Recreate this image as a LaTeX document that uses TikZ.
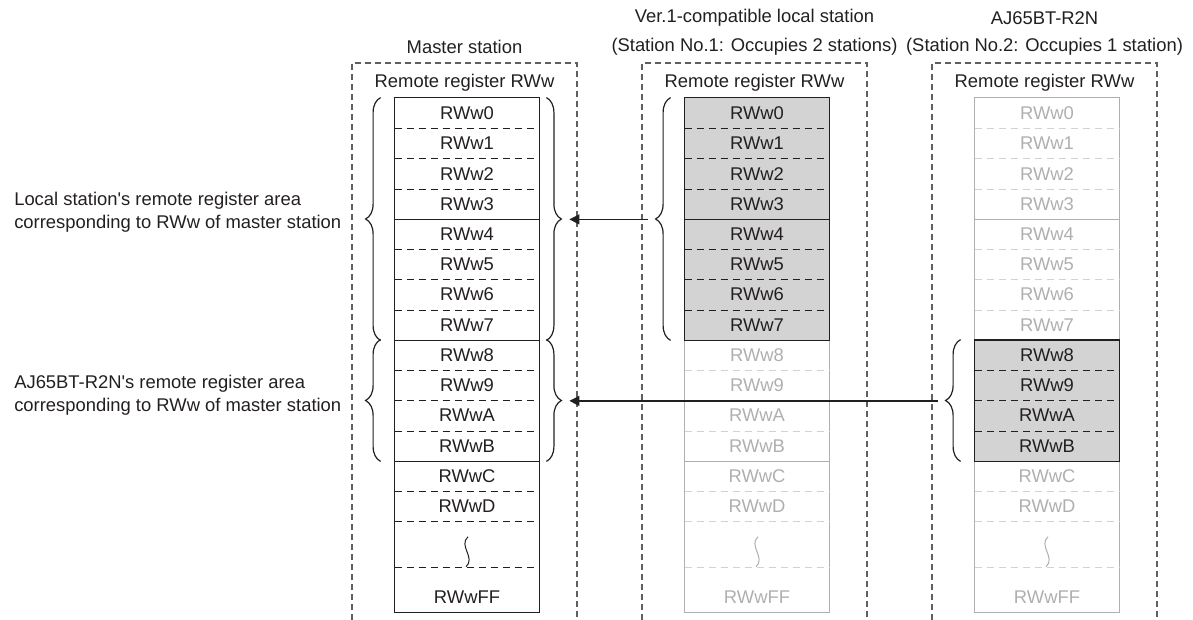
\documentclass[tikz,border=0pt]{standalone}
\usepackage{fontspec}
\setmainfont{Liberation Sans}
\usepackage{tikz}
\usetikzlibrary{positioning,decorations.pathreplacing,arrows.meta}

\definecolor{inkdark}{RGB}{35,31,32}
\definecolor{inklight}{RGB}{175,175,175}
\definecolor{dashlight}{RGB}{210,210,210}
\definecolor{regshade}{RGB}{211,211,211}
\definecolor{framegray}{RGB}{95,95,95}

\tikzset{
  txt/.style={font=\fontsize{9.2}{11.5}\selectfont, text=inkdark, inner sep=0pt},
  cell/.style={txt, minimum width=72pt, minimum height=15.125pt},
  frame/.style={draw=framegray, line width=0.6pt, dash pattern=on 3pt off 2pt},
  sep/.style={line width=0.6pt},
  dashsep/.style={line width=0.5pt, dash pattern=on 3.5pt off 2.5pt},
  brace/.style={draw=inkdark, line width=0.6pt, decorate, decoration={brace, amplitude=7.5pt}},
  arr/.style={draw=inkdark, line width=0.6pt, -{Triangle[length=5pt,width=5pt]}},
}

% register column: #1 prefix, #2/#3 first/last used row, #4 fill of used rows,
% #5 text/line colour of other rows, #6 dash colour of other rows
\newcommand{\regcol}[6]{%
  \foreach \n [count=\i from 0] in {0,1,2,3,4,5,6,7,8,9,A,B,C,D} {
    \ifnum\i<#2\relax \def\tc{#5}\def\fc{none}%
    \else\ifnum\i>#3\relax \def\tc{#5}\def\fc{none}%
    \else \def\tc{inkdark}\def\fc{#4}\fi\fi
    \node[cell, text=\tc, fill=\fc] (#1\i) at (115,{113.125+30.25*\i}) {RWw\n};
  }
  \node[cell] (#1gap) at (115,551.75) {};
  \node[cell, text=#5] (#1ff) at (115,597.125) {RWwFF};
  \draw[sep, draw=#5] (#10.north west) rectangle (#1ff.south east);
  \foreach \i in {0,...,12} {
    \ifnum\i=3 \def\ls{sep}\def\lo{#5}%
    \else\ifnum\i=7 \def\ls{sep}\def\lo{#5}%
    \else\ifnum\i=11 \def\ls{sep}\def\lo{#5}%
    \else\def\ls{dashsep}\def\lo{#6}\fi\fi\fi
    \pgfmathtruncatemacro{\on}{(\i>=#2-1)&&(\i<=#3)}
    \ifnum\on=1 \def\lc{inkdark}\else\let\lc\lo\fi
    \draw[\ls, draw=\lc] (#1\i.south west) -- (#1\i.south east);
  }
  \draw[dashsep, draw=#6] (#113.south west) -- (#113.south east);
  \draw[dashsep, draw=#6] (#1gap.south west) -- (#1gap.south east);
  \draw[line width=0.5pt, draw=#5] ([shift={(1,-15)}]#1gap.center) .. controls +(-10,9) and +(10,-9) .. ([shift={(-1,15)}]#1gap.center);
  \draw[sep, draw=inkdark] (#1#2.north west) rectangle (#1#3.south east);
}

\begin{document}
\begin{tikzpicture}[x=0.5pt, y=-0.5pt]
\useasboundingbox (0,0) rectangle (1193,620);

% 1. Master station
\begin{scope}[shift={(352,0)}]
  \draw[frame] (0,620) |- (225,63) -- (225,620);
  \node[txt] (mname) at (112.5,47) {Master station};
  \node[txt] (mreg) at (112.5,83) {Remote register RWw};
  \regcol{m}{0}{11}{white}{inkdark}{inkdark}
\end{scope}

% 2. Local station
\begin{scope}[shift={(642,0)}]
  \draw[frame] (0,620) |- (225,63) -- (225,620);
  \node[txt] (lname) at (112.5,18) {Ver.1-compatible local station};
  \node[txt] (lno) at (112.5,47) {(Station No.1: Occupies 2 stations)};
  \node[txt] (lreg) at (112.5,83) {Remote register RWw};
  \regcol{l}{0}{7}{regshade}{inklight}{dashlight}
\end{scope}

% 3. AJ65BT-R2N
\begin{scope}[shift={(932,0)}]
  \draw[frame] (0,620) |- (225,63) -- (225,620);
  \node[txt] (rname) at (112.5,18) {AJ65BT-R2N};
  \node[txt] (rno) at (112.5,47) {(Station No.2: Occupies 1 station)};
  \node[txt] (rreg) at (112.5,83) {Remote register RWw};
  \regcol{r}{8}{11}{regshade}{inklight}{dashlight}
\end{scope}

% braces
\draw[brace] ([xshift=-7pt]m7.south west) -- ([xshift=-7pt]m0.north west);
\draw[brace] ([xshift=-7pt]m11.south west) -- ([xshift=-7pt]m8.north west);
\draw[brace] ([xshift=3.5pt]m0.north east) -- ([xshift=3.5pt]m7.south east);
\draw[brace] ([xshift=3.5pt]m8.north east) -- ([xshift=3.5pt]m11.south east);
\draw[brace] ([xshift=-7pt]l7.south west) -- ([xshift=-7pt]l0.north west);
\draw[brace] ([xshift=-7pt]r11.south west) -- ([xshift=-7pt]r8.north west);

\coordinate (mtipA) at ([xshift=-14.5pt]m3.south west);
\coordinate (mtipB) at ([xshift=-14.5pt]m9.south west);
\coordinate (mtipC) at ([xshift=11pt]m3.south east);
\coordinate (mtipD) at ([xshift=11pt]m9.south east);
\coordinate (ltip) at ([xshift=-14.5pt]l3.south west);
\coordinate (rtip) at ([xshift=-14.5pt]r9.south west);

% labels and arrows
\node[txt, align=left, anchor=east, yshift=3.5pt] (labloc) at ([xshift=-12pt]mtipA)
  {Local station\textquotesingle s remote register area\\corresponding to RWw of master station};
\node[txt, align=left, anchor=east, yshift=3pt] (labr2n) at ([xshift=-12pt]mtipB)
  {AJ65BT-R2N\textquotesingle s remote register area\\corresponding to RWw of master station};
\draw[arr] ([xshift=-4pt]ltip) -- ([xshift=4pt]mtipC);
\draw[arr] ([xshift=-4pt]rtip) -- ([xshift=4pt]mtipD);

\end{tikzpicture}
\end{document}
